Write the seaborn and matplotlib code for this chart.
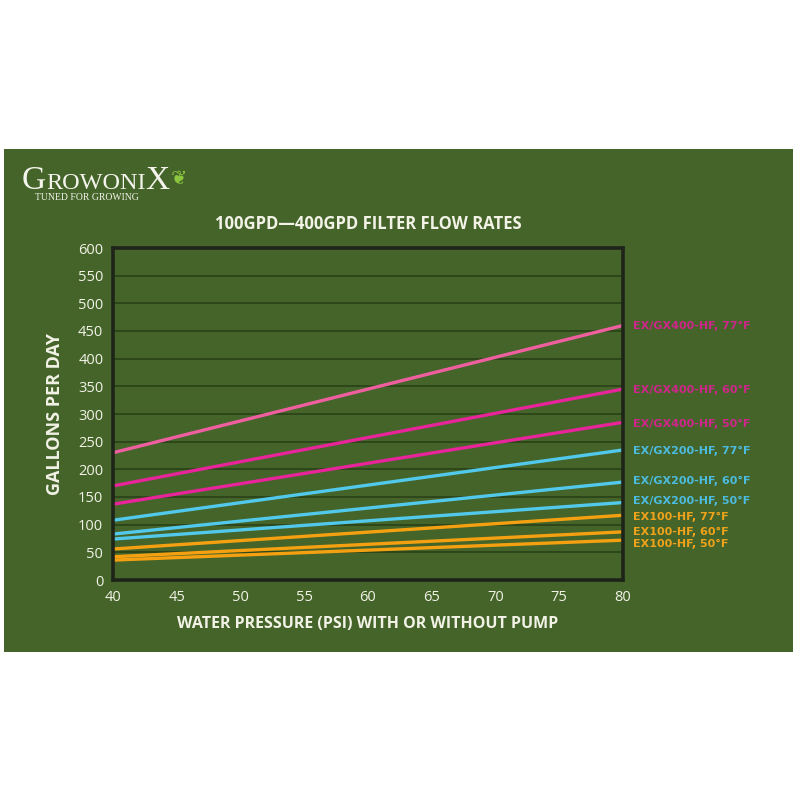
import matplotlib
matplotlib.use("Agg")
import matplotlib.pyplot as plt
import seaborn as sns
import pandas as pd
from matplotlib.patches import Rectangle

# ---- data ----
pressure = [40, 80]
series_names = [
    "EX/GX400-HF, 77°F", "EX/GX400-HF, 60°F", "EX/GX400-HF, 50°F",
    "EX/GX200-HF, 77°F", "EX/GX200-HF, 60°F", "EX/GX200-HF, 50°F",
    "EX100-HF, 77°F", "EX100-HF, 60°F", "EX100-HF, 50°F",
]
gx400_77 = [230, 460]
gx400_60 = [170, 345]
gx400_50 = [137, 285]
gx200_77 = [108, 235]
gx200_60 = [83, 177]
gx200_50 = [74, 140]
ex100_77 = [56, 117]
ex100_60 = [42, 87]
ex100_50 = [36, 72]
series_values = [gx400_77, gx400_60, gx400_50, gx200_77, gx200_60, gx200_50,
                 ex100_77, ex100_60, ex100_50]
x_ticks = [40, 45, 50, 55, 60, 65, 70, 75, 80]
y_ticks = list(range(0, 601, 50))

# ---- styling ----
line_colors = ["#ef5fa0", "#e8249a", "#e8249a",
               "#52c8ea", "#52c8ea", "#52c8ea",
               "#f5a011", "#f5a011", "#f5a011"]
label_colors = ["#d0268c", "#d0268c", "#d0268c",
                "#4cbbe0", "#4cbbe0", "#4cbbe0",
                "#f0a21a", "#f0a21a", "#f0a21a"]
# label shift in pixels (positive = down)
label_shift_px = [0, 1, 2, 1, -1, -2, 2, 0, 4]

rows = []
for name, vals in zip(series_names, series_values):
    for x, y in zip(pressure, vals):
        rows.append({"psi": x, "gpd": y, "series": name})
df = pd.DataFrame(rows)

sns.set_theme(style="white")
plt.rcParams["font.family"] = ["Open Sans", "DejaVu Sans"]

green = "#44642a"
text_col = "#f2f2e6"

fig = plt.figure(figsize=(8, 8), dpi=100)
fig.patch.set_facecolor("white")
fig.add_artist(Rectangle((4 / 800, 1 - 652 / 800), 789 / 800, 503 / 800,
                         transform=fig.transFigure, facecolor=green,
                         edgecolor="none", zorder=0))

ax = fig.add_axes([113 / 800, 1 - 580 / 800, 510 / 800, 332 / 800])
ax.set_facecolor(green)

sns.lineplot(data=df, x="psi", y="gpd", hue="series", hue_order=series_names,
             palette=line_colors, linewidth=2.4, legend=False, ax=ax,
             zorder=3)

ax.set_xlim(40, 80)
ax.set_ylim(0, 600)
ax.set_xticks(x_ticks)
ax.set_yticks(y_ticks)
ax.yaxis.grid(True, color="#2c4419", linewidth=1.3)
ax.xaxis.grid(False)
ax.set_axisbelow(True)
for s in ax.spines.values():
    s.set_color("#1f2419")
    s.set_linewidth(2.6)
    s.set_zorder(4)
ax.tick_params(axis="both", colors=text_col, labelsize=10.5, length=0, pad=7)
ax.set_xlabel("WATER PRESSURE (PSI) WITH OR WITHOUT PUMP", color=text_col,
              fontsize=11.5, fontweight="bold", labelpad=8)
ax.set_ylabel("GALLONS PER DAY", color=text_col, fontsize=13,
              fontweight="bold", labelpad=10)

# right-side labels
for name, vals, col, sh in zip(series_names, series_values, label_colors,
                               label_shift_px):
    ax.annotate(name, xy=(1, vals[-1]), xycoords=("axes fraction", "data"),
                xytext=(7, -sh * 0.72), textcoords="offset points",
                color=col, fontsize=8, fontweight="bold",
                family=["DejaVu Sans"],
                va="center", ha="left", annotation_clip=False)

fig.text(368 / 800, 1 - 224 / 800, "100GPD\u2014400GPD FILTER FLOW RATES",
         color=text_col, fontsize=12, fontweight="bold", ha="center",
         va="center")

# logo
serif = ["Liberation Serif", "DejaVu Serif"]
fig.canvas.draw()
renderer = fig.canvas.get_renderer()
x = 22 / 800
y = 1 - 189 / 800
for part, size in [("G", 24), ("ROWONI", 17.5), ("X", 24)]:
    t = fig.text(x, y, part, color="#f4f4ec", fontsize=size, family=serif,
                 ha="left", va="baseline")
    bb = t.get_window_extent(renderer)
    x += bb.width / 800
fig.text(35 / 800, 1 - 197 / 800, "TUNED FOR GROWING", color="#f4f4ec",
         fontsize=7, family=serif, ha="left", va="center")
fig.text(x + 1 / 800, 1 - 179 / 800, "\u2766", color="#8cc63f", fontsize=14,
         family=["DejaVu Sans"], ha="left", va="center")

fig.savefig("out.png", dpi=100, facecolor="white")
